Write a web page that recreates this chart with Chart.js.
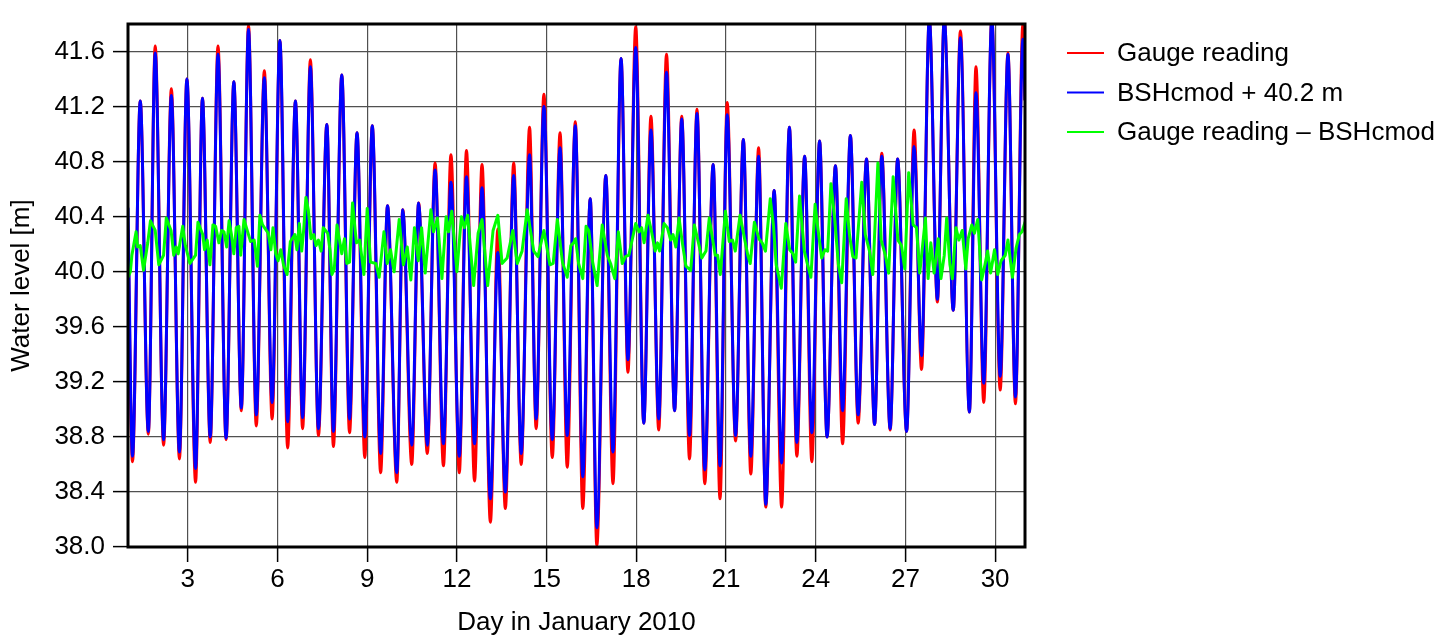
<!DOCTYPE html>
<html>
<head>
<meta charset="utf-8">
<title>Water level, January 2010</title>
<script src="https://cdn.jsdelivr.net/npm/chart.js@4.4.1/dist/chart.umd.min.js"></script>
<style>
  html, body { margin: 0; padding: 0; background: #fff; }
  #chart { display: block; }
</style>
</head>
<body>
<canvas id="chart" width="1447" height="643"></canvas>
<script>
/* =========================
   DATA
========================= */
// tide turning points: day in January 2010
const extremeDays = [
  1.00, 1.15, 1.41, 1.68, 1.91, 2.19, 2.45, 2.72, 2.97, 3.26, 3.49, 3.75, 4.01, 4.28, 4.54, 4.79, 5.03, 5.29, 5.56, 5.82,
  6.08, 6.34, 6.60, 6.84, 7.10, 7.37, 7.65, 7.87, 8.15, 8.41, 8.66, 8.92, 9.17, 9.45, 9.68, 9.99, 10.19, 10.49, 10.72, 11.01,
  11.27, 11.55, 11.80, 12.08, 12.32, 12.59, 12.84, 13.12, 13.37, 13.62, 13.90, 14.15, 14.43, 14.65, 14.91, 15.19, 15.45, 15.69, 15.96, 16.21,
  16.46, 16.68, 16.98, 17.22, 17.49, 17.72, 17.98, 18.25, 18.49, 18.75, 19.01, 19.28, 19.52, 19.78, 20.03, 20.29, 20.57, 20.80, 21.04, 21.32,
  21.58, 21.83, 22.09, 22.33, 22.61, 22.86, 23.12, 23.37, 23.63, 23.87, 24.13, 24.38, 24.66, 24.90, 25.16, 25.42, 25.70, 25.97, 26.21, 26.49,
  26.74, 27.04, 27.29, 27.54, 27.80, 28.07, 28.30, 28.60, 28.84, 29.14, 29.36, 29.62, 29.89, 30.17, 30.43, 30.68, 30.93, 31.00
];
// gauge reading [m]
const gaugeLevels = [
  40.30, 38.62, 41.24, 38.82, 41.64, 38.74, 41.33, 38.64, 41.40, 38.47, 41.26, 38.76, 41.64, 38.78, 41.38, 38.99, 41.79, 38.88, 41.46, 38.93,
  41.68, 38.72, 41.24, 38.86, 41.54, 38.81, 41.07, 38.73, 41.43, 38.83, 41.01, 38.65, 41.06, 38.54, 40.48, 38.47, 40.45, 38.60, 40.50, 38.68,
  40.79, 38.59, 40.85, 38.54, 40.88, 38.48, 40.78, 38.18, 40.31, 38.28, 40.79, 38.60, 41.05, 38.86, 41.29, 38.65, 41.01, 38.58, 41.09, 38.28,
  40.53, 38.01, 40.70, 38.46, 41.55, 39.27, 41.78, 38.90, 41.13, 38.85, 41.58, 38.99, 41.13, 38.64, 41.18, 38.46, 40.78, 38.35, 41.23, 38.77,
  40.96, 38.53, 40.90, 38.29, 40.59, 38.29, 41.05, 38.66, 40.84, 38.62, 40.95, 38.80, 40.77, 38.75, 40.99, 38.90, 40.82, 38.89, 40.86, 38.85,
  40.82, 38.84, 41.03, 39.29, 41.84, 39.78, 41.84, 39.72, 41.75, 38.98, 41.49, 39.05, 41.84, 39.14, 41.59, 39.04, 41.80, 41.25
];
// BSHcmod + 40.2 m
const modelLevels = [
  40.46, 38.66, 41.24, 38.84, 41.59, 38.78, 41.28, 38.69, 41.40, 38.57, 41.26, 38.80, 41.58, 38.79, 41.38, 39.01, 41.76, 38.96, 41.41, 39.05,
  41.68, 38.91, 41.24, 38.94, 41.49, 38.86, 41.07, 38.84, 41.43, 38.93, 41.01, 38.80, 41.06, 38.68, 40.48, 38.54, 40.45, 38.74, 40.50, 38.74,
  40.74, 38.75, 40.65, 38.66, 40.69, 38.75, 40.61, 38.35, 40.14, 38.40, 40.70, 38.68, 40.85, 38.93, 41.20, 38.78, 40.90, 38.81, 41.06, 38.51,
  40.53, 38.14, 40.70, 38.69, 41.55, 39.36, 41.63, 38.90, 41.03, 38.93, 41.45, 38.99, 41.11, 38.81, 41.15, 38.56, 40.78, 38.59, 41.14, 38.81,
  40.96, 38.66, 40.84, 38.31, 40.59, 38.61, 41.05, 38.76, 40.84, 38.83, 40.95, 38.80, 40.77, 38.99, 40.99, 38.96, 40.82, 38.89, 40.84, 38.86,
  40.82, 38.84, 40.91, 39.39, 41.84, 39.80, 41.84, 39.72, 41.70, 38.98, 41.30, 39.19, 41.84, 39.24, 41.58, 39.09, 41.69, 41.25
];

// gauge reading - BSHcmod
const residualDays = [
  1.00, 1.08, 1.13, 1.27, 1.32, 1.41, 1.52, 1.66, 1.75, 1.91, 2.03, 2.19, 2.28, 2.44, 2.53, 2.61, 2.68, 2.83, 2.92, 3.07,
  3.26, 3.34, 3.50, 3.56, 3.65, 3.74, 3.84, 3.93, 4.04, 4.13, 4.21, 4.30, 4.38, 4.46, 4.54, 4.62, 4.71, 4.77, 4.88, 4.96,
  5.10, 5.22, 5.33, 5.41, 5.50, 5.69, 5.78, 5.85, 5.94, 6.02, 6.11, 6.20, 6.32, 6.43, 6.58, 6.65, 6.73, 6.81, 6.87, 6.95,
  7.03, 7.12, 7.21, 7.29, 7.37, 7.46, 7.53, 7.68, 7.76, 7.82, 7.90, 7.99, 8.15, 8.24, 8.32, 8.41, 8.51,
  8.64, 8.75, 8.89, 9.00, 9.11, 9.29, 9.40, 9.56, 9.67, 9.78, 9.90, 10.07, 10.21, 10.34, 10.46, 10.58, 10.71, 10.82, 10.94, 11.13,
  11.22, 11.35, 11.50, 11.64, 11.72, 11.83, 12.00, 12.15, 12.25, 12.36, 12.56, 12.71, 12.84, 13.03, 13.21, 13.37, 13.51, 13.68, 13.87, 14.02,
  14.18, 14.35, 14.57, 14.71, 14.91, 15.11, 15.22, 15.36, 15.53, 15.69, 15.81, 15.90, 15.97, 16.07,
  16.21, 16.32, 16.41, 16.54, 16.69, 16.86, 17.03, 17.14, 17.28, 17.40, 17.53, 17.64, 17.75, 17.98, 18.09, 18.18, 18.26, 18.39, 18.51, 18.63,
  18.71, 18.78, 18.93, 19.04, 19.15, 19.23, 19.32, 19.43, 19.54, 19.66, 19.82, 19.94, 20.08, 20.19, 20.33, 20.44, 20.55, 20.64, 20.72, 20.81,
  20.98, 21.11, 21.22, 21.31, 21.47, 21.62, 21.73, 21.81, 21.95, 22.10, 22.21, 22.32, 22.48, 22.59, 22.68, 22.85, 23.00, 23.13, 23.24, 23.33,
  23.46, 23.62, 23.73, 23.84, 23.98, 24.07, 24.20, 24.31, 24.40, 24.51, 24.63, 24.76, 24.87, 25.02, 25.13, 25.24, 25.35, 25.54, 25.66, 25.80,
  25.91, 26.08, 26.19, 26.33, 26.44, 26.59, 26.75, 26.87, 26.98, 27.11, 27.26, 27.37, 27.48, 27.67, 27.76, 27.85, 27.96, 28.10, 28.19, 28.30,
  28.38, 28.49, 28.57, 28.69, 28.79, 28.90, 29.02, 29.10, 29.22, 29.31, 29.42, 29.55, 29.66, 29.75, 29.85, 29.98, 30.09, 30.20, 30.34, 30.43,
  30.58, 30.70, 30.81, 30.90, 31.00
];
const residualLevels = [
  39.96, 40.00, 40.12, 40.29, 40.18, 40.19, 40.01, 40.21, 40.37, 40.30, 40.05, 40.12, 40.39, 40.30, 40.12, 40.18, 40.13, 40.33, 40.19, 40.06,
  40.12, 40.36, 40.27, 40.16, 40.23, 40.05, 40.34, 40.33, 40.21, 40.30, 40.29, 40.18, 40.37, 40.27, 40.13, 40.32, 40.33, 40.12, 40.38, 40.32,
  40.22, 40.23, 40.04, 40.41, 40.34, 40.28, 40.16, 40.32, 40.13, 40.08, 40.16, 40.05, 39.98, 40.22, 40.27, 40.16, 40.35, 40.15, 40.29, 40.54,
  40.45, 40.24, 40.27, 40.19, 40.23, 40.15, 40.32, 40.28, 40.15, 39.98, 40.02, 40.34, 40.13, 40.24, 40.06, 40.07, 40.50,
  40.21, 40.23, 39.98, 40.46, 40.07, 40.06, 39.96, 40.29, 40.06, 40.16, 40.00, 40.38, 40.05, 40.18, 39.94, 40.32, 40.08, 40.32, 39.99, 40.45,
  40.29, 40.39, 39.95, 40.40, 40.29, 40.44, 40.00, 40.40, 40.32, 40.41, 39.90, 40.28, 40.38, 39.90, 40.30, 40.41, 40.06, 40.10, 40.30, 40.06,
  40.15, 40.45, 40.15, 40.11, 40.30, 40.05, 40.06, 40.38, 40.07, 39.96, 40.19, 40.21, 40.24, 40.06,
  39.95, 40.33, 40.30, 40.07, 39.90, 40.34, 40.12, 40.06, 39.95, 40.29, 40.06, 40.11, 40.12, 40.35, 40.29, 40.32, 40.21, 40.41, 40.29, 40.15,
  40.21, 40.15, 40.35, 40.32, 40.23, 40.27, 40.18, 40.39, 40.21, 40.04, 40.01, 40.34, 40.21, 40.10, 40.15, 40.39, 40.24, 40.12, 40.12, 39.98,
  40.44, 40.22, 40.23, 40.15, 40.41, 40.24, 40.12, 40.06, 40.36, 40.24, 40.21, 40.15, 40.53, 40.33, 40.05, 39.88, 40.35, 40.16, 40.13, 40.07,
  40.55, 40.15, 40.05, 39.96, 40.49, 40.32, 40.10, 40.16, 40.15, 40.64, 40.40, 40.05, 39.92, 40.53, 40.27, 40.11, 40.10, 40.65, 40.27, 40.15,
  39.98, 40.79, 40.23, 40.12, 39.99, 40.69, 40.23, 40.19, 40.02, 40.72, 40.34, 40.32, 39.99, 40.39, 39.95, 40.21, 39.99, 40.24, 39.95, 40.12,
  40.39, 40.05, 39.95, 40.32, 40.23, 40.30, 40.02, 40.24, 40.34, 40.28, 40.38, 39.94, 40.05, 40.15, 39.99, 40.16, 39.98, 40.08, 40.12, 40.23,
  39.96, 40.17, 40.27, 40.29, 40.36
];

const xTicks = [3, 6, 9, 12, 15, 18, 21, 24, 27, 30];
const yTicks = [38.0, 38.4, 38.8, 39.2, 39.6, 40.0, 40.4, 40.8, 41.2, 41.6];

const seriesLabels = ['Gauge reading', 'BSHcmod + 40.2 m', 'Gauge reading \u2013 BSHcmod'];
const seriesColors = ['#ff0000', '#0000ff', '#00ff00'];

/* =========================
   HELPERS
========================= */
const FONT = '"Liberation Sans", Arial, Helvetica, sans-serif';
const FONT_SIZE = 26;

function toPoints(days, levels) {
  return days.map((d, i) => ({ x: d, y: levels[i] }));
}

// thick black box round the plot area
const framePlugin = {
  id: 'frame',
  afterDatasetsDraw(chart) {
    const { ctx, chartArea: a } = chart;
    ctx.save();
    ctx.strokeStyle = '#000';
    ctx.lineWidth = 3;
    ctx.strokeRect(a.left, a.top, a.right - a.left, a.bottom - a.top);
    ctx.restore();
  }
};

// legend to the right of the plot
const sideLegend = {
  id: 'sideLegend',
  afterDraw(chart) {
    const ctx = chart.ctx;
    ctx.save();
    ctx.font = FONT_SIZE + 'px ' + FONT;
    ctx.textBaseline = 'middle';
    ctx.fillStyle = '#000';
    chart.data.datasets.forEach((ds, i) => {
      const y = 53 + i * 39.5;
      ctx.strokeStyle = ds.borderColor;
      ctx.lineWidth = 2;
      ctx.beginPath();
      ctx.moveTo(1067, y);
      ctx.lineTo(1104, y);
      ctx.stroke();
      ctx.fillText(ds.label, 1117, y + 1);
    });
    ctx.restore();
  }
};

/* =========================
   CHART
========================= */
const ctx = document.getElementById('chart').getContext('2d');
new Chart(ctx, {
  type: 'line',
  data: {
    datasets: [
      {
        label: seriesLabels[0],
        data: toPoints(extremeDays, gaugeLevels),
        borderColor: seriesColors[0],
        borderWidth: 3,
        cubicInterpolationMode: 'monotone',
        order: 3
      },
      {
        label: seriesLabels[1],
        data: toPoints(extremeDays, modelLevels),
        borderColor: seriesColors[1],
        borderWidth: 3,
        cubicInterpolationMode: 'monotone',
        order: 2
      },
      {
        label: seriesLabels[2],
        data: toPoints(residualDays, residualLevels),
        borderColor: seriesColors[2],
        borderWidth: 3,
        tension: 0,
        order: 1
      }
    ]
  },
  options: {
    animation: false,
    responsive: false,
    devicePixelRatio: 1,
    parsing: false,
    elements: {
      point: { radius: 0 },
      line: { borderJoinStyle: 'round', borderCapStyle: 'round' }
    },
    layout: { padding: { top: 24, right: 422, bottom: 0, left: 0 } },
    plugins: {
      legend: { display: false },
      tooltip: { enabled: false }
    },
    scales: {
      x: {
        type: 'linear',
        min: 1,
        max: 31,
        afterBuildTicks: s => { s.ticks = xTicks.map(v => ({ value: v })); },
        afterFit: s => { s.height = 96; },
        border: { display: false },
        grid: { color: '#505050', lineWidth: 1.2, tickLength: 15, tickColor: '#000', tickWidth: 1.5 },
        ticks: { padding: 2, color: '#000', font: { family: FONT, size: FONT_SIZE }, maxRotation: 0, autoSkip: false },
        title: {
          display: true,
          text: 'Day in January 2010',
          color: '#000',
          font: { family: FONT, size: FONT_SIZE },
          padding: { top: 0, bottom: 5 }
        }
      },
      y: {
        type: 'linear',
        min: 38,
        max: 41.8,
        afterBuildTicks: s => { s.ticks = yTicks.map(v => ({ value: v })); },
        afterFit: s => { s.width = 128; },
        border: { display: false },
        grid: { color: '#505050', lineWidth: 1.2, tickLength: 15, tickColor: '#000', tickWidth: 1.5 },
        ticks: {
          padding: 8,
          color: '#000',
          font: { family: FONT, size: FONT_SIZE },
          callback: v => Number(v).toFixed(1)
        },
        title: {
          display: true,
          text: 'Water level [m]',
          color: '#000',
          font: { family: FONT, size: FONT_SIZE },
          padding: { top: 6, bottom: 0 }
        }
      }
    }
  },
  plugins: [framePlugin, sideLegend]
});
</script>
</body>
</html>
